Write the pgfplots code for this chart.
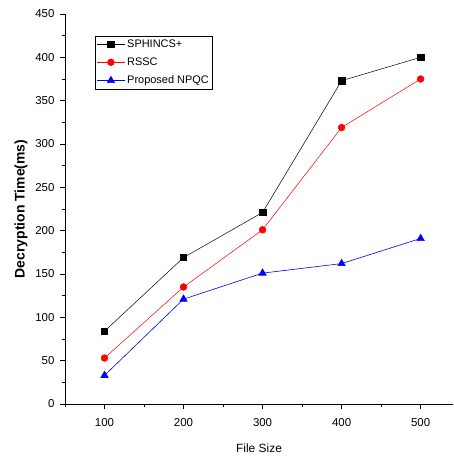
\documentclass[border=0pt]{standalone}
\usepackage{pgfplots}
\pgfplotsset{compat=1.18}
\usepackage{fontspec}
\setmainfont{Liberation Sans}
\begin{document}
\begin{tikzpicture}[x=1bp,y=1bp]
\begin{axis}[
    scale only axis,
    width=388bp, height=390bp,
    xmin=50, xmax=541,
    ymin=0, ymax=450,
    axis x line=bottom, axis y line=left,
    axis line style={-, line width=0.9pt},
    xtick={100,200,300,400,500},
    minor xtick={50,150,250,350,450},
    ytick={0,50,...,450},
    minor ytick={25,75,...,425},
    tick align=outside,
    major tick length=5bp, minor tick length=3bp,
    every tick/.style={black, line width=0.8pt},
    tick label style={font=\fontsize{11.5}{13}\selectfont},
    yticklabel style={xshift=-2bp},
    xticklabel style={yshift=-6bp},
    /pgf/number format/assume math mode=true,
    xlabel={File Size},
    ylabel={\textbf{Decryption Time(ms)}},
    xlabel style={yshift=-10bp, font=\fontsize{12}{13}\selectfont},
    ylabel style={yshift=1bp, font=\fontsize{14}{15}\selectfont},
    legend style={at={(0.077,0.944)}, anchor=north west, draw=black, line width=0.5pt,
        font=\fontsize{11}{12}\selectfont, inner sep=1.5pt, row sep=5bp},
    legend cell align=left,
    legend image code/.code={%
        \draw[mark repeat=2, mark phase=2, #1] plot coordinates {(0bp,0bp) (14bp,0bp) (28bp,0bp)};},
    clip=false,
]
\addplot[black, line width=0.5pt, mark=square*, mark size=3.2bp, mark options={solid}]
    coordinates {(100,84) (200,169) (300,221) (400,373) (500,400)};
\addlegendentry{SPHINCS+}
\addplot[red, line width=0.5pt, mark=*, mark size=3.4bp]
    coordinates {(100,53) (200,135) (300,201) (400,319) (500,375)};
\addlegendentry{RSSC}
\addplot[blue, line width=0.6pt, mark=triangle*, mark size=4.2bp]
    coordinates {(100,33) (200,121) (300,151) (400,162) (500,191)};
\addlegendentry{Proposed NPQC}
\end{axis}
\pgfresetboundingbox
\path ([xshift=-65bp,yshift=-55bp]current axis.south west) rectangle ([yshift=14bp]current axis.north east);
\end{tikzpicture}
\end{document}
